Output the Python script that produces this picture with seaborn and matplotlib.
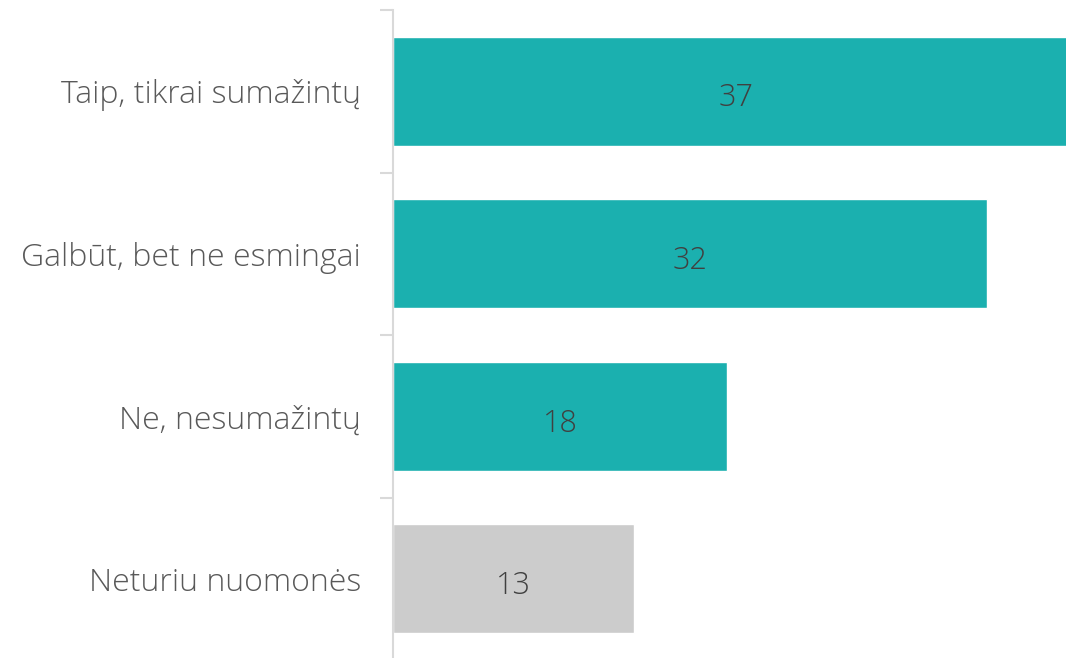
import matplotlib
matplotlib.use("Agg")
import matplotlib.pyplot as plt
import seaborn as sns
from pandas import DataFrame

# data
categories = ["Taip, tikrai sumažintų", "Galbūt, bet ne esmingai", "Ne, nesumažintų", "Neturiu nuomonės"]
values = [37, 32, 18, 13]
colors = ["#1bb0af", "#1bb0af", "#1bb0af", "#cccccc"]

df = DataFrame({"category": categories, "value": values})

sns.set_style("white")
plt.rcParams['font.family'] = ['Open Sans', 'DejaVu Sans']

fig = plt.figure(figsize=(10.66, 6.58), dpi=100)
ax = fig.add_axes([393 / 1066, -2 / 658, 673 / 1066, 650 / 658])

sns.barplot(x="value", y="category", hue="category", data=df, palette=colors,
            orient="h", width=0.67, legend=False, ax=ax, saturation=1)

ax.set_xlim(0, 36.26)
ax.set_ylim(3.5, -0.5)

# value labels at bar centres
for i, v in enumerate(values):
    ax.text(v / 2, i + 0.02, str(v), ha="center", va="center_baseline", fontsize=22,
            fontweight="light", color="#404040")

# axes styling
for side in ["top", "right", "bottom"]:
    ax.spines[side].set_visible(False)
ax.spines["left"].set_color("#d9d9d9")
ax.spines["left"].set_linewidth(1.5)
ax.set_xticks([])
ax.set_xlabel("")
ax.set_ylabel("")
ax.set_yticks(range(len(categories)))
ax.set_yticklabels(categories, fontsize=23, fontweight="light", color="#595959")
ax.tick_params(axis="y", which="major", length=0, pad=23)
ax.set_yticks([-0.5, 0.5, 1.5, 2.5, 3.5], minor=True)
ax.tick_params(axis="y", which="minor", length=9.5, width=1.5, color="#d9d9d9", left=True)

fig.savefig("out.png", dpi=100)
